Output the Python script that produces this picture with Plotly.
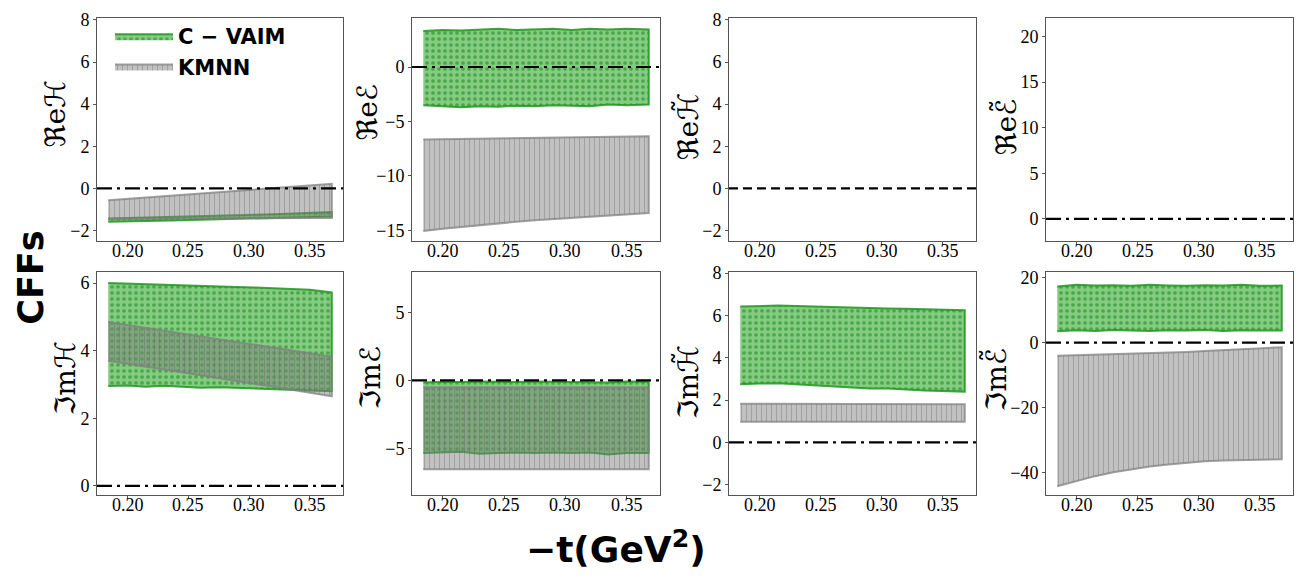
import plotly.graph_objects as go

# -t values (GeV^2)
t_vals = [0.184, 0.200, 0.215, 0.230, 0.245, 0.260, 0.275, 0.290, 0.305, 0.320, 0.335, 0.350, 0.368]

# C-VAIM bands (upper / lower)
cvaim_reH_hi = [-1.42, -1.40, -1.38, -1.37, -1.35, -1.32, -1.30, -1.28, -1.25, -1.22, -1.19, -1.16, -1.12]
cvaim_reH_lo = [-1.58, -1.56, -1.55, -1.53, -1.51, -1.48, -1.46, -1.44, -1.42, -1.40, -1.37, -1.35, -1.33]
cvaim_reE_hi = [3.30, 3.40, 3.35, 3.45, 3.50, 3.40, 3.45, 3.50, 3.40, 3.50, 3.45, 3.50, 3.45]
cvaim_reE_lo = [-3.50, -3.60, -3.70, -3.60, -3.65, -3.55, -3.60, -3.50, -3.55, -3.60, -3.45, -3.50, -3.45]
cvaim_imH_hi = [6.00, 5.98, 5.96, 5.94, 5.93, 5.92, 5.90, 5.88, 5.87, 5.85, 5.83, 5.80, 5.72]
cvaim_imH_lo = [2.95, 2.97, 2.93, 2.96, 2.92, 2.90, 2.92, 2.88, 2.87, 2.86, 2.84, 2.82, 2.80]
cvaim_imE_hi = [-0.15, -0.10, -0.12, -0.08, -0.10, -0.12, -0.08, -0.10, -0.12, -0.10, -0.15, -0.08, -0.10]
cvaim_imE_lo = [-5.35, -5.30, -5.25, -5.40, -5.35, -5.30, -5.35, -5.30, -5.35, -5.30, -5.45, -5.35, -5.35]
cvaim_imHt_hi = [6.42, 6.45, 6.47, 6.45, 6.42, 6.40, 6.38, 6.35, 6.33, 6.32, 6.30, 6.28, 6.25]
cvaim_imHt_lo = [2.75, 2.78, 2.80, 2.75, 2.70, 2.65, 2.60, 2.55, 2.55, 2.50, 2.45, 2.42, 2.40]
cvaim_imEt_hi = [17.3, 17.8, 17.6, 17.7, 17.5, 17.8, 17.6, 17.5, 17.7, 17.6, 17.8, 17.5, 17.6]
cvaim_imEt_lo = [3.5, 3.8, 3.6, 3.9, 3.7, 3.6, 3.8, 3.7, 3.9, 3.6, 3.8, 3.7, 3.7]

# KMNN bands (upper / lower)
kmnn_reH_hi = [-0.56, -0.49, -0.43, -0.37, -0.30, -0.24, -0.17, -0.11, -0.05, 0.02, 0.08, 0.14, 0.22]
kmnn_reH_lo = [-1.45, -1.45, -1.44, -1.44, -1.44, -1.43, -1.43, -1.42, -1.42, -1.41, -1.41, -1.40, -1.40]
kmnn_reE_hi = [-6.65, -6.63, -6.60, -6.58, -6.55, -6.53, -6.50, -6.48, -6.45, -6.43, -6.40, -6.38, -6.35]
kmnn_reE_lo = [-15.05, -14.85, -14.67, -14.50, -14.35, -14.20, -14.07, -13.95, -13.82, -13.72, -13.62, -13.52, -13.40]
kmnn_imH_hi = [4.85, 4.76, 4.67, 4.59, 4.50, 4.42, 4.33, 4.25, 4.16, 4.08, 3.99, 3.91, 3.82]
kmnn_imH_lo = [3.70, 3.61, 3.52, 3.44, 3.35, 3.27, 3.18, 3.10, 3.01, 2.93, 2.84, 2.76, 2.65]
kmnn_imE_hi = [-0.50, -0.50, -0.50, -0.50, -0.50, -0.50, -0.50, -0.50, -0.50, -0.50, -0.50, -0.50, -0.50]
kmnn_imE_lo = [-6.55, -6.55, -6.55, -6.55, -6.55, -6.55, -6.55, -6.55, -6.55, -6.55, -6.55, -6.55, -6.55]
kmnn_imHt_hi = [1.83, 1.83, 1.83, 1.83, 1.82, 1.82, 1.82, 1.82, 1.81, 1.81, 1.81, 1.80, 1.80]
kmnn_imHt_lo = [0.97, 0.97, 0.97, 0.97, 0.97, 0.97, 0.97, 0.97, 0.97, 0.97, 0.97, 0.97, 0.97]
kmnn_imEt_hi = [-4.07, -3.92, -3.78, -3.65, -3.51, -3.33, -3.10, -2.88, -2.64, -2.35, -2.06, -1.78, -1.43]
kmnn_imEt_lo = [-44.3, -42.6, -41.2, -40.0, -39.0, -38.2, -37.6, -37.0, -36.6, -36.35, -36.2, -36.1, -36.0]

panel_labels = ["ℜeℋ", "ℜeℰ", "ℜeℋ̃", "ℜeℰ̃", "ℑmℋ", "ℑmℰ", "ℑmℋ̃", "ℑmℰ̃"]
x_tick_vals = [0.20, 0.25, 0.30, 0.35]
series_names = ["C − VAIM", "KMNN"]

panel_data = [
    (cvaim_reH_hi, cvaim_reH_lo, kmnn_reH_hi, kmnn_reH_lo),
    (cvaim_reE_hi, cvaim_reE_lo, kmnn_reE_hi, kmnn_reE_lo),
    None,
    None,
    (cvaim_imH_hi, cvaim_imH_lo, kmnn_imH_hi, kmnn_imH_lo),
    (cvaim_imE_hi, cvaim_imE_lo, kmnn_imE_hi, kmnn_imE_lo),
    (cvaim_imHt_hi, cvaim_imHt_lo, kmnn_imHt_hi, kmnn_imHt_lo),
    (cvaim_imEt_hi, cvaim_imEt_lo, kmnn_imEt_hi, kmnn_imEt_lo),
]

# page body has an 8px margin: build the figure in page pixels shifted by OFF
OFF = 8
W, H = 1312 - OFF, 576 - OFF


def fx(px):
    return (px - OFF) / W


def fy(py):
    return 1 - (py - OFF) / H


col_px = [(97, 343), (412, 660), (729, 976), (1046, 1293)]
row_px = [(10, 237), (268, 495)]
y_ranges = [[-2.51, 8.09], [-16.0, 4.5], [-2.51, 8.09], [-2.48, 22.05],
            [-0.28, 6.33], [-8.46, 8.0], [-2.5, 8.06], [-47.1, 21.8]]
y_dticks = [2, 5, 2, 5, 2, 5, 2, 20]
label_pos = [(55, 108), (367, 106), (688, 121), (1006, 121),
             (65, 376), (370, 376), (688, 380), (996, 377)]
dashdot = "15px,5px,3px,5px"
zero_dash = [dashdot, dashdot, "9px,5px", dashdot, dashdot, dashdot, dashdot, dashdot]

green_bg = "rgba(50,170,45,0.6)"
green_fg = "rgba(25,130,25,0.55)"
green_edge = "rgba(30,150,30,0.85)"
gray_bg = "rgba(125,125,125,0.48)"
gray_fg = "rgba(105,105,105,0.5)"
gray_edge = "rgba(128,128,128,0.75)"
tick_font = dict(family="Liberation Serif", size=18, color="black")

fig = go.Figure()
layout = {}
shapes = []
annotations = []

for i in range(8):
    r, c = divmod(i, 4)
    ax = "" if i == 0 else str(i + 1)
    xa, ya = "x" + ax, "y" + ax
    x0, x1 = col_px[c]
    yt, yb = row_px[r]
    common = dict(showline=True, mirror=True, linecolor="#555555", linewidth=1,
                  ticks="outside", ticklen=3, tickcolor="#555555", showgrid=False,
                  zeroline=False, tickfont=tick_font)
    layout["xaxis" + ax] = dict(domain=[fx(x0), fx(x1)], anchor=ya, range=[0.1748, 0.3772],
                                tickvals=x_tick_vals, showticklabels=False, **common)
    layout["yaxis" + ax] = dict(domain=[fy(yb), fy(yt)], anchor=xa, range=y_ranges[i],
                                dtick=y_dticks[i], tick0=0, **common)
    # x tick labels placed close to the axis (as in the reference)
    for tv in x_tick_vals:
        annotations.append(dict(text=f"{tv:.2f}", xref=xa, yref="paper", x=tv,
                                y=fy(yb + 10), xanchor="center", yanchor="middle",
                                showarrow=False, font=tick_font))
    d = panel_data[i]
    if d is not None:
        c_hi, c_lo, k_hi, k_lo = d
        fig.add_trace(go.Scatter(
            x=t_vals + t_vals[::-1], y=c_hi + c_lo[::-1], xaxis=xa, yaxis=ya,
            fill="toself", mode="lines", line=dict(color=green_edge, width=2),
            fillpattern=dict(shape=".", bgcolor=green_bg, fgcolor=green_fg, size=6,
                             solidity=0.3, fillmode="replace"),
            name=series_names[0], showlegend=(i == 0), hoverinfo="skip"))
        fig.add_trace(go.Scatter(
            x=t_vals + t_vals[::-1], y=k_hi + k_lo[::-1], xaxis=xa, yaxis=ya,
            fill="toself", mode="lines", line=dict(color=gray_edge, width=2),
            fillpattern=dict(shape="|", bgcolor=gray_bg, fgcolor=gray_fg, size=5,
                             solidity=0.15, fillmode="replace"),
            name=series_names[1], showlegend=(i == 0), hoverinfo="skip"))
    shapes.append(dict(type="line", xref=xa + " domain", yref=ya, x0=0, x1=1, y0=0, y1=0,
                       line=dict(color="black", width=2.2, dash=zero_dash[i]), layer="above"))
    lx, ly = label_pos[i]
    annotations.append(dict(text=panel_labels[i], xref="paper", yref="paper",
                            x=fx(lx), y=fy(ly), xanchor="center", yanchor="middle",
                            textangle=-90, showarrow=False,
                            font=dict(family="DejaVu Serif, DejaVu Sans", size=28, color="black")))

annotations.append(dict(text="CFFs", xref="paper", yref="paper", x=fx(31), y=fy(274),
                        xanchor="center", yanchor="middle", textangle=-90, showarrow=False,
                        font=dict(family="DejaVu Sans", size=35, color="black", weight="bold")))
annotations.append(dict(text="−t(GeV<sup>2</sup>)", xref="paper", yref="paper", x=fx(616),
                        y=fy(548), xanchor="center", yanchor="middle", showarrow=False,
                        font=dict(family="DejaVu Sans", size=36, color="black", weight="bold")))

fig.update_layout(
    width=W, height=H, margin=dict(l=0, r=0, t=0, b=0),
    paper_bgcolor="white", plot_bgcolor="white",
    shapes=shapes, annotations=annotations,
    legend=dict(x=fx(110), y=fy(8), xanchor="left", yanchor="top",
                bgcolor="rgba(0,0,0,0)", itemwidth=58,
                font=dict(family="DejaVu Sans", size=21, color="black", weight="bold")),
    **layout)

fig.write_html("out.html")
